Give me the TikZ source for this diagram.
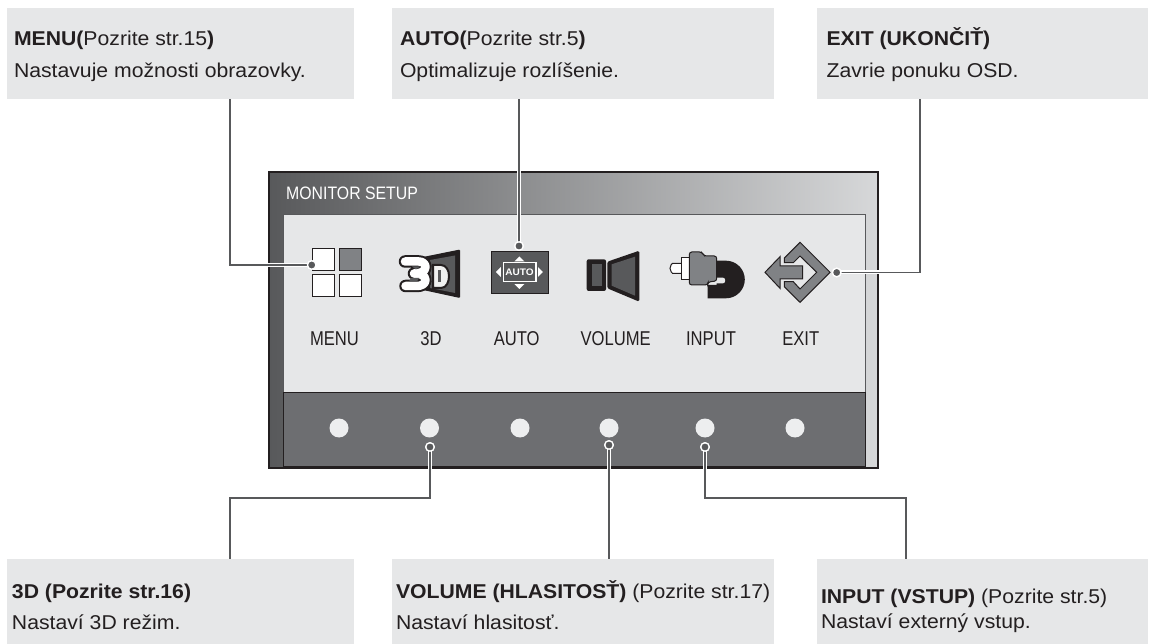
\documentclass[tikz,border=0pt]{standalone}
\usepackage{fontspec}
\setmainfont[FakeStretch=1.06]{Liberation Sans}
\newfontfamily\osdfont[FakeStretch=0.83]{Liberation Sans}
\newfontfamily\titlefont[FakeStretch=0.88]{Liberation Sans}
\definecolor{ink}{HTML}{231F20}
\definecolor{boxgray}{HTML}{E6E7E8}
\definecolor{midgray}{HTML}{808285}
\definecolor{dkgray}{HTML}{58595B}
\definecolor{panelgray}{HTML}{6D6E71}
\tikzset{
  x=1pt,y=-1pt,
  infobox/.style={fill=boxgray,draw=none,rectangle,inner sep=0,outer sep=0,anchor=north west},
  infotext/.style={anchor=base west,inner sep=0,outer sep=0,text=ink,font=\fontsize{20}{24}\selectfont},
  osdlabel/.style={anchor=base,inner sep=0,outer sep=0,text=ink,font=\osdfont\fontsize{20}{22}\selectfont},
  connector/.style={draw=dkgray,line width=1.4pt,preaction={draw=white,line width=4pt}},
  pin/.style={circle,fill=dkgray,draw=white,line width=1.3pt,minimum size=8.5pt,inner sep=0,outer sep=0},
  softkey/.style={circle,fill=boxgray!70!white,minimum size=19pt,inner sep=0,outer sep=0},
  iconline/.style={draw=ink,line width=1pt},
}
\begin{document}
\begin{tikzpicture}
\useasboundingbox (0,0) rectangle (1149,644);
% information boxes
\node[infobox,minimum width=347pt,minimum height=90.7pt] (b1) at (7,8) {};
\node[infobox,minimum width=382pt,minimum height=90.7pt] (b2) at (392,8) {};
\node[infobox,minimum width=331pt,minimum height=90.7pt] (b3) at (817,8) {};
\node[infobox,minimum width=347pt,minimum height=85pt] (b4) at (7,559) {};
\node[infobox,minimum width=382pt,minimum height=85pt] (b5) at (392,559) {};
\node[infobox,minimum width=331pt,minimum height=85pt] (b6) at (817,559) {};
% box texts
\node[infotext] (t1a) at (14,45.7) {\textbf{MENU(}Pozrite str.15\textbf{)}};
\node[infotext] (t1b) at (14,77.5) {Nastavuje možnosti obrazovky.};
\node[infotext] (t2a) at (400,45.7) {\textbf{AUTO(}Pozrite str.5\textbf{)}};
\node[infotext] (t2b) at (400,77.5) {Optimalizuje rozlíšenie.};
\node[infotext] (t3a) at (826.6,45.7) {\textbf{EXIT (UKONČIŤ)}};
\node[infotext] (t3b) at (826.6,77.5) {Zavrie ponuku OSD.};
\node[infotext] (t4a) at (12,598) {\textbf{3D (Pozrite str.16)}};
\node[infotext] (t4b) at (12,629) {Nastaví 3D režim.};
\node[infotext] (t5a) at (396,598) {\textbf{VOLUME (HLASITOSŤ)} (Pozrite str.17)};
\node[infotext] (t5b) at (396,629) {Nastaví hlasitosť.};
\node[infotext] (t6a) at (821,603) {\textbf{INPUT (VSTUP)} (Pozrite str.5)};
\node[infotext] (t6b) at (821,628) {Nastaví externý vstup.};
% monitor
\path[left color=dkgray,right color=boxgray!85!midgray] (269,172) rectangle (878,468);
\fill[boxgray] (283,214) rectangle (865,392);
\draw[dkgray,line width=.8pt] (283,392) -- (283,214) -- (865,214) -- (865,392);
\fill[panelgray] (283,392) rectangle (865,466);
\draw[ink,line width=1pt] (283,392) -- (865,392);
\draw[ink,line width=.8pt] (283,392) -- (283,466) -- (865,466) -- (865,392);
\draw[ink,line width=2pt] (269,172) rectangle (878,468);
\node[anchor=base west,inner sep=0,text=white,font=\titlefont\fontsize{18}{20}\selectfont] (title) at (286,200) {MONITOR SETUP};
% MENU icon
\draw[iconline,fill=white] (312.3,248.3) rectangle (334.3,270.3);
\draw[iconline,fill=midgray] (339,248.3) rectangle (361,270.3);
\draw[iconline,fill=white] (312.3,274.3) rectangle (334.3,296.3);
\draw[iconline,fill=white] (339,274.3) rectangle (361,296.3);
% 3D icon
\fill[ink,rounded corners=1pt] (423,257) -- (460,249.5) -- (460,298) -- (423,290) -- cycle;
\fill[dkgray] (430,260) -- (455,255.5) -- (455,293) -- (430,288) -- cycle;
\draw[ink,line width=2pt,fill=boxgray!60!white] (433,265) -- (441,265) to[out=0,in=90] (449,276) to[out=-90,in=0] (441,288) -- (433,288) -- cycle;
\draw[dkgray,line width=2.5pt] (439.5,270.5) -- (439.5,282.5);
\path[draw=ink,line width=12.5pt,line cap=round,line join=round]
  (405,261.5) -- (419,261.5) to[out=0,in=90] (425.5,267) to[out=-90,in=0] (414,273.5)
  to[out=0,in=90] (425.5,280) to[out=-90,in=0] (417,286) -- (405.5,286);
\path[draw=white,line width=8.5pt,line cap=round,line join=round]
  (405,261.5) -- (419,261.5) to[out=0,in=90] (425.5,267) to[out=-90,in=0] (414,273.5)
  to[out=0,in=90] (425.5,280) to[out=-90,in=0] (417,286) -- (405.5,286);
\fill[dkgray] (412,266.5) -- (420,266.5) -- (416,269.5) -- cycle;
\fill[dkgray] (411,278) -- (419,278) -- (417,281.5) -- (409,281.5) -- cycle;
% AUTO icon
\draw[ink,line width=.8pt,fill=dkgray] (491.7,251) rectangle (548,293.7);
\draw[white,line width=1.2pt] (503.3,262.7) rectangle (536,281.3);
\node[inner sep=0,text=white,font=\bfseries\fontsize{9.5}{10}\selectfont] (autotxt) at (519.6,272.2) {AUTO};
\fill[white] (519.4,256.5) -- (524.4,261.4) -- (514.4,261.4) -- cycle;
\fill[white] (519.4,289) -- (524.4,284.1) -- (514.4,284.1) -- cycle;
\fill[white] (496,272) -- (500.8,267) -- (500.8,277) -- cycle;
\fill[white] (542.8,272) -- (538,267) -- (538,277) -- cycle;
% VOLUME icon
\fill[ink,rounded corners=2pt] (586.7,259.3) rectangle (606,291);
\fill[dkgray] (591.7,264.3) rectangle (601.7,286);
\fill[ink,rounded corners=1.5pt] (607.3,261.7) -- (639.3,250.7) -- (639.3,301.7) -- (607.3,288.3) -- cycle;
\fill[dkgray] (611.7,264.3) -- (635,256.7) -- (635,295.7) -- (611.7,285.7) -- cycle;
% INPUT icon
\fill[ink] (716.7,260.7) -- (726,260.7) arc[start angle=90,end angle=-90,radius=18.8pt] -- (707.7,298.3) -- (707.7,285) -- (716.7,285) -- cycle;
\fill[boxgray,rounded corners=2pt] (714,277.7) rectangle (725,283.3);
\draw[iconline,fill=white,rounded corners=2.5pt] (682,263.3) -- (675,263.3) arc[start angle=90,end angle=270,radius=5pt] -- (682,273.3);
\draw[iconline,fill=white] (681.7,257.7) rectangle (689.3,280);
\draw[iconline,fill=midgray,rounded corners=2.5pt] (689.3,252) -- (702,252) -- (704,256) -- (716.7,256) -- (716.7,281) -- (708,282) -- (707.7,285) -- (689.3,285) -- cycle;
% EXIT icon
\draw[iconline,fill=midgray,line join=miter] (784.3,258) -- (800,242.3) -- (830,272.3) -- (800,302.3) -- (784.3,286.7) -- (784.3,281.7) -- (793.3,281.7) -- (800,289) -- (816.7,272.3) -- (800,256) -- (793.3,262.7) -- (784.3,262.7) -- cycle;
\draw[iconline,fill=midgray,line join=miter] (765,272.3) -- (780,256.7) -- (780,266) -- (802.7,266) -- (802.7,279) -- (780,279) -- (780,288.3) -- cycle;
% OSD labels
\node[osdlabel] (l1) at (334.5,345) {MENU};
\node[osdlabel] (l2) at (431,345) {3D};
\node[osdlabel] (l3) at (516.7,345) {AUTO};
\node[osdlabel] (l4) at (615.7,345) {VOLUME};
\node[osdlabel] (l5) at (711,345) {INPUT};
\node[osdlabel] (l6) at (800.7,345) {EXIT};
% soft keys
\node[softkey] (k1) at (339,428) {};
\node[softkey] (k2) at (429.5,428) {};
\node[softkey] (k3) at (520,428) {};
\node[softkey] (k4) at (609,428) {};
\node[softkey] (k5) at (705,428) {};
\node[softkey] (k6) at (795,428) {};
% connector ends
\node[pin] (p1) at (311.7,265) {};
\node[pin] (p2) at (519,246) {};
\node[pin] (p3) at (836.7,272.5) {};
\node[pin] (p4) at (430,447) {};
\node[pin] (p5) at (609,445) {};
\node[pin] (p6) at (705,447) {};
\coordinate (e1) at (230,98.7);
\coordinate (e3) at (920,98.7);
\coordinate (e4) at (230,559);
\coordinate (e6) at (906,559);
\coordinate (m4) at (430,498);
\coordinate (m6) at (705,498);
\draw[connector] (p1.center) -| (e1);
\draw[connector] (p2.center) -- (p2.center |- b2.south);
\draw[connector] (p3.center) -| (e3);
\draw[connector] (p4.center) -- (m4) -| (e4);
\draw[connector] (p5.center) -- (p5.center |- b5.north);
\draw[connector] (p6.center) -- (m6) -| (e6);
\node[pin] (q1) at (p1) {};
\node[pin] (q2) at (p2) {};
\node[pin] (q3) at (p3) {};
\node[pin] (q4) at (p4) {};
\node[pin] (q5) at (p5) {};
\node[pin] (q6) at (p6) {};
\end{tikzpicture}
\end{document}
